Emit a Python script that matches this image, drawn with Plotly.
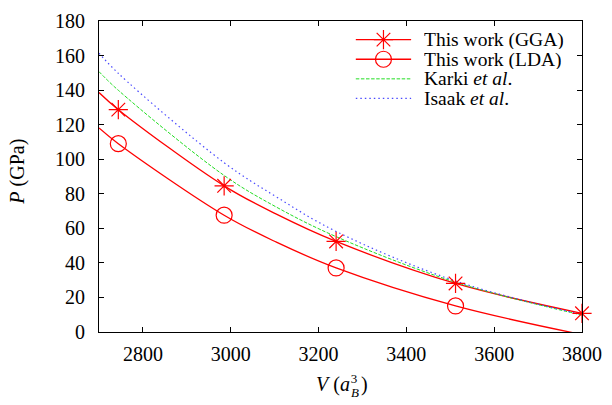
import plotly.graph_objects as go

# ---- data ----
v_points = [2744, 2985, 3240, 3512, 3800]
p_gga_points = [128.7, 84.6, 52.4, 28.1, 10.8]
v_lda_points = [2744, 2985, 3240, 3512]
p_lda_points = [109.0, 67.6, 37.1, 15.1]

v_curve = [2700, 2744, 2985, 3104, 3240, 3512, 3800]
p_gga_curve = [138.6, 128.7, 84.6, 68.2, 52.4, 28.1, 10.8]
p_lda_curve = [118.1, 109.0, 67.6, 52.0, 37.1, 15.1, -1.5]
p_karki_curve = [150.7, 139.9, 90.6, 72.3, 55.2, 28.8, 9.8]
p_isaak_curve = [161.4, 149.7, 98.0, 78.2, 58.2, 29.5, 10.1]

x_ticks = [2800, 3000, 3200, 3400, 3600, 3800]
y_ticks = [0, 20, 40, 60, 80, 100, 120, 140, 160, 180]

names = ["This work (GGA)", "This work (LDA)", "Karki <i>et al</i>.", "Isaak <i>et al</i>."]

RED = "#ff0000"
GREEN = "#22dd22"
BLUE = "#4a4aff"
FONT = "Liberation Serif"
FS = 20
KEY_FS = 19.5
GREEN_DASH = "3.5px,1.6px"
BLUE_DASH = "1.5px,3px"

W, H = 612, 405
L, R, T, B = 99, 24, 10, 73
pw, ph = W - L - R, H - T - B

def px(xp):
    return (xp - L) / pw

def py(yp):
    return (H - B - yp) / ph

fig = go.Figure()

fig.add_trace(go.Scatter(x=v_curve, y=p_gga_curve, mode="lines", line=dict(color=RED, width=1.3, shape="spline"), showlegend=False))
fig.add_trace(go.Scatter(x=v_curve, y=p_lda_curve, mode="lines", line=dict(color=RED, width=1.3, shape="spline"), showlegend=False))
fig.add_trace(go.Scatter(x=v_curve, y=p_karki_curve, mode="lines", line=dict(color=GREEN, width=1, dash=GREEN_DASH, shape="spline"), showlegend=False))
fig.add_trace(go.Scatter(x=v_curve, y=p_isaak_curve, mode="lines", line=dict(color=BLUE, width=1.2, dash=BLUE_DASH, shape="spline"), showlegend=False))

star = dict(symbol="asterisk-open", size=16, color=RED, line=dict(color=RED, width=1.2))
circ = dict(symbol="circle-open", size=16, color=RED, line=dict(color=RED, width=1.2))

fig.add_trace(go.Scatter(x=v_points, y=p_gga_points, mode="markers", cliponaxis=False, marker=star, showlegend=False))
fig.add_trace(go.Scatter(x=v_lda_points, y=p_lda_points, mode="markers", cliponaxis=False, marker=circ, showlegend=False))

# ---- hand-drawn key (overlay axes in pixel units) ----
key_rows = [29.3, 49.6, 69.9, 90.2]
key_x0, key_x1, key_xm, key_text_x = 359, 415, 387, 427
key_styles = [
    dict(line=dict(color=RED, width=1.3), marker=star),
    dict(line=dict(color=RED, width=1.3), marker=circ),
    dict(line=dict(color=GREEN, width=1, dash=GREEN_DASH)),
    dict(line=dict(color=BLUE, width=1.2, dash=BLUE_DASH)),
]
for yk, st in zip(key_rows, key_styles):
    fig.add_trace(go.Scatter(x=[key_x0, key_x1], y=[yk, yk], xaxis="x2", yaxis="y2", mode="lines",
                             line=st["line"], showlegend=False, cliponaxis=False, hoverinfo="skip"))
    if "marker" in st:
        fig.add_trace(go.Scatter(x=[key_xm], y=[yk], xaxis="x2", yaxis="y2", mode="markers",
                                 marker=st["marker"], showlegend=False, cliponaxis=False, hoverinfo="skip"))

annotations = []
for yk, nm in zip(key_rows, names):
    annotations.append(dict(text=nm, x=px(key_text_x), y=py(yk), xref="paper", yref="paper", showarrow=False,
                            xanchor="left", yanchor="middle", height=19, borderpad=0,
                            font=dict(family=FONT, size=KEY_FS, color="black")))

annotations += [
    dict(text="<i>P</i> (GPa)", x=px(17), y=py(166), xref="paper", yref="paper", textangle=-90, showarrow=False,
         font=dict(family=FONT, size=FS, color="black"), xanchor="center", yanchor="middle"),
    dict(text="<i>V</i> (<i>a</i>", x=px(354), y=py(386), xref="paper", yref="paper", showarrow=False,
         font=dict(family=FONT, size=FS, color="black"), xanchor="right", yanchor="middle", borderpad=0),
    dict(text="<i>B</i>", x=px(352), y=py(394.5), xref="paper", yref="paper", showarrow=False,
         font=dict(family=FONT, size=13, color="black"), xanchor="left", yanchor="middle",
         width=10, height=10, borderpad=0),
    dict(text="3", x=px(352), y=py(380), xref="paper", yref="paper", showarrow=False,
         font=dict(family=FONT, size=13, color="black"), xanchor="left", yanchor="middle",
         width=8, height=10, borderpad=0),
    dict(text=")", x=px(363), y=py(386), xref="paper", yref="paper", showarrow=False,
         font=dict(family=FONT, size=FS, color="black"), xanchor="left", yanchor="middle", borderpad=0),
]

axis_common = dict(showline=True, linecolor="black", linewidth=1, mirror="ticks",
                   ticks="inside", ticklen=5, tickcolor="black", tickwidth=1,
                   showgrid=False, zeroline=False,
                   tickfont=dict(family=FONT, size=FS, color="black"))

fig.update_layout(
    width=W, height=H,
    margin=dict(l=L, r=R, t=T, b=B, pad=0),
    paper_bgcolor="white", plot_bgcolor="white",
    showlegend=False,
    xaxis=dict(range=[2700, 3800], tickvals=x_ticks, ticklabelstandoff=4, **axis_common),
    yaxis=dict(range=[0, 180], tickvals=y_ticks, ticklabelstandoff=9, **axis_common),
    xaxis2=dict(range=[L, W - R], overlaying="x", visible=False, fixedrange=True),
    yaxis2=dict(range=[H - B, T], overlaying="y", visible=False, fixedrange=True),
    font=dict(family=FONT, color="black"),
    annotations=annotations,
)

fig.write_html("out.html", config={"displayModeBar": False},
               post_script="document.body.style.margin='0';document.body.style.padding='0';")
